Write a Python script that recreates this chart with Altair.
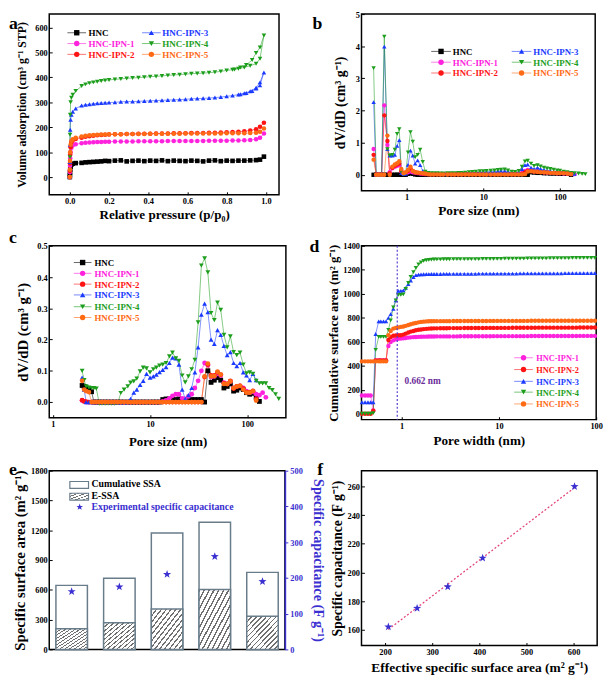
import altair as alt
import pandas as pd

FONT = "Liberation Serif"
SERIES = ["HNC", "HNC-IPN-1", "HNC-IPN-2", "HNC-IPN-3", "HNC-IPN-4", "HNC-IPN-5"]
COLORS = ["#000000", "#ff22dd", "#ff1414", "#1a3aff", "#1c9e1c", "#ff6a14"]
SHAPES = ["square", "circle", "circle", "triangle-up", "triangle-down", "circle"]
STAR = ("M0,-1L0.235,-0.324L0.951,-0.309L0.38,0.124L0.588,0.809L0,0.4"
        "L-0.588,0.809L-0.38,0.124L-0.951,-0.309L-0.235,-0.324Z")
STAR_COLOR = "#3a2fd0"
BAR_EDGE = "#687c8a"
LETTERS = ["a", "b", "c", "d", "e", "f"]

# ---------------- panel a : isotherms ----------------
A_P = [0.0, 0.0005, 0.001, 0.002, 0.004, 0.008, 0.015, 0.03, 0.06, 0.08,
       0.10, 0.12, 0.14, 0.16, 0.18, 0.20, 0.23, 0.26, 0.29, 0.32,
       0.35, 0.38, 0.41, 0.44, 0.47, 0.50, 0.53, 0.56, 0.59, 0.62,
       0.65, 0.68, 0.71, 0.74, 0.77, 0.80, 0.83, 0.86, 0.89, 0.92,
       0.95, 0.97, 0.99]
A_V = {
    "HNC": [0, 8, 18, 30, 42, 50, 54, 56, 57, 59,
            60, 61, 62, 63, 65, 64, 66, 67, 63, 65,
            66, 64, 66, 65, 67, 64, 66, 65, 64, 66,
            65, 63, 66, 67, 64, 66, 65, 66, 66, 67,
            68, 70, 82],
    "HNC-IPN-1": [0, 20, 45, 75, 100, 118, 128, 132, 136, 138,
                  139, 140, 141, 141, 142, 142, 143, 143, 143, 143,
                  144, 144, 144, 144, 144, 145, 145, 145, 145, 145,
                  145, 145, 146, 146, 146, 146, 147, 147, 148, 149,
                  152, 158, 175],
    "HNC-IPN-2": [0, 25, 55, 90, 120, 140, 148, 153, 158, 162,
                  164, 166, 168, 169, 170, 171, 172, 172, 173, 173,
                  174, 174, 174, 175, 175, 175, 176, 176, 176, 177,
                  177, 177, 178, 178, 179, 180, 181, 182, 184, 187,
                  192, 202, 218],
    "HNC-IPN-3": [0, 60, 130, 190, 230, 250, 262, 275, 287, 290,
                  292, 294, 296, 297, 298, 299, 300, 302, 303, 303,
                  304, 305, 306, 307, 308, 309, 310, 311, 312, 314,
                  315, 316, 317, 319, 321, 324, 327, 331, 336, 344,
                  358, 380, 420],
    "HNC-IPN-4": [0, 80, 170, 250, 300, 318, 330, 345, 365, 372,
                  377, 380, 383, 386, 388, 390, 392, 394, 396, 398,
                  399, 401, 403, 404, 406, 408, 410, 411, 413, 415,
                  416, 417, 419, 421, 424, 428, 431, 435, 440, 447,
                  455, 475, 568],
    "HNC-IPN-5": [0, 30, 65, 100, 130, 145, 152, 158, 163, 166,
                  168, 169, 170, 171, 171, 172, 172, 172, 173, 173,
                  173, 173, 174, 174, 174, 174, 174, 174, 175, 175,
                  175, 175, 175, 175, 175, 176, 176, 176, 176, 177,
                  178, 182, 195],
}
A_DES_P = {"HNC-IPN-3": [0.97, 0.95, 0.93, 0.90, 0.87],
           "HNC-IPN-4": [0.97, 0.95, 0.93, 0.90, 0.87, 0.84]}
A_DES_V = {"HNC-IPN-3": [368, 355, 345, 337, 332],
           "HNC-IPN-4": [520, 498, 470, 450, 440, 432]}
A_XTICKS = [0.0, 0.2, 0.4, 0.6, 0.8, 1.0]
A_YTICKS = [0, 100, 200, 300, 400, 500, 600]

# ---------------- panel b : DFT pore size distribution ----------------
B_X = [0.37, 0.40, 0.43, 0.47, 0.51, 0.56, 0.60, 0.65, 0.70, 0.75,
       0.80, 0.85, 0.91, 0.97, 1.04, 1.12, 1.20, 1.29, 1.39, 1.50,
       1.62, 1.75, 1.90, 2.05, 2.25, 2.50, 2.75, 3.0, 3.4, 3.8,
       4.2, 4.7, 5.2, 5.8, 6.5, 7.2, 8.0, 9.0, 10.0, 11.0,
       12.5, 14.0, 15.5, 17.0, 19.0, 21.0, 23.5, 26.0, 29.0, 32.0,
       35.0, 38.0, 42.0, 46.0, 51.0, 56.0, 62.0, 68.0, 75.0, 83.0,
       92.0, 100.0, 112.0, 125.0, 140.0, 155.0, 175.0, 195.0, 215.0]
B_Y = {
    "HNC": [0, 0, 0, 0, 0, 0, 0, 0, 0, 0,
            0, 0, 0, 0, 0.03, 0.05, 0.03, 0.01, 0, 0,
            0, 0, 0, 0, 0, 0, 0, 0, 0, 0,
            0, 0, 0, 0, 0, 0, 0, 0, 0, 0,
            0, 0, 0, 0, 0, 0, 0, 0, 0, 0,
            0, 0, 0.08, 0.07, 0.06, 0.06, 0.05, 0.05, 0.04, 0.04,
            0.04, 0.03, 0.03, 0.03, 0.0, None, None, None, None],
    "HNC-IPN-1": [0.80, 0, 0, 0, 2.16, 0.93, 0.08, 0.20, 0.25, 0.28,
                  0.30, 0.10, 0.05, 0.05, 0.08, 0.10, 0.08, 0.06, 0.05, 0.04,
                  0.03, 0.02, 0.02, 0.02, 0.02, 0.02, 0.02, 0.02, 0.02, 0.02,
                  0.02, 0.02, 0.02, 0.02, 0.02, 0.02, 0.02, 0.02, 0.02, 0.02,
                  0.02, 0.02, 0.03, 0.03, 0.03, 0.02, 0.02, 0.02, 0.03, 0.06,
                  0.12, 0.15, 0.12, 0.10, 0.10, 0.09, 0.08, 0.07, 0.06, 0.06,
                  0.05, 0.05, 0.04, 0.04, 0.03, 0.02, None, None, None],
    "HNC-IPN-2": [0.62, 0, 0, 0, 1.85, 1.05, 0.05, 0.22, 0.28, 0.32,
                  0.35, 0.12, 0.05, 0.06, 0.12, 0.20, 0.12, 0.08, 0.06, 0.05,
                  0.04, 0.03, 0.02, 0.02, 0.02, 0.02, 0.02, 0.02, 0.02, 0.02,
                  0.02, 0.02, 0.02, 0.02, 0.02, 0.02, 0.02, 0.02, 0.02, 0.02,
                  0.02, 0.02, 0.02, 0.02, 0.02, 0.02, 0.02, 0.02, 0.02, 0.03,
                  0.08, 0.12, 0.12, 0.10, 0.10, 0.09, 0.08, 0.08, 0.06, 0.06,
                  0.05, 0.05, 0.05, 0.04, 0.02, None, None, None, None],
    "HNC-IPN-3": [2.26, 0, 0, 0, 3.99, 0.80, 0.60, 0.60, 0.62, 0.90,
                  1.08, 0.05, 0.02, 0.03, 0.31, 0.75, 0.60, 0.35, 0.45, 0.30,
                  0.12, 0.05, 0.04, 0.03, 0.03, 0.03, 0.03, 0.03, 0.03, 0.04,
                  0.04, 0.05, 0.05, 0.05, 0.06, 0.07, 0.07, 0.08, 0.08, 0.09,
                  0.10, 0.10, 0.11, 0.12, 0.12, 0.10, 0.06, 0.05, 0.08, 0.18,
                  0.30, 0.32, 0.22, 0.18, 0.22, 0.18, 0.15, 0.13, 0.12, 0.10,
                  0.09, 0.08, 0.06, 0.05, 0.04, 0.03, None, None, None],
    "HNC-IPN-4": [3.32, 0, 0, 0, 4.30, 0.80, 0.60, 0.62, 0.78, 1.27,
                  1.42, 0.10, 0.02, 0.05, 0.70, 1.33, 1.03, 0.55, 0.62, 0.78,
                  0.40, 0.10, 0.06, 0.05, 0.05, 0.05, 0.04, 0.04, 0.05, 0.05,
                  0.05, 0.06, 0.06, 0.07, 0.08, 0.09, 0.10, 0.11, 0.11, 0.12,
                  0.13, 0.14, 0.15, 0.16, 0.17, 0.14, 0.10, 0.09, 0.12, 0.25,
                  0.42, 0.44, 0.35, 0.28, 0.30, 0.26, 0.22, 0.20, 0.18, 0.16,
                  0.14, 0.13, 0.10, 0.08, 0.06, 0.05, 0.04, 0.03, 0.02],
    "HNC-IPN-5": [0.47, 0, 0, 0, 0, 1.22, 0.00, 0.25, 0.32, 0.36,
                  0.42, 0.18, 0.05, 0.08, 0.15, 0.25, 0.12, 0.08, 0.07, 0.06,
                  0.05, 0.04, 0.02, 0.01, 0.01, 0.01, 0.01, 0.01, 0.01, 0.01,
                  0.01, 0.01, 0.01, 0.01, 0.01, 0.01, 0.01, 0.01, 0.01, 0.01,
                  0.01, 0.01, 0.01, 0.01, 0.01, 0.01, 0.01, 0.01, 0.01, 0.01,
                  0.02, 0.10, 0.11, 0.10, 0.09, 0.08, 0.08, 0.07, 0.06, 0.06,
                  0.05, 0.05, 0.05, 0.04, 0.02, None, None, None, None],
}
B_XTICKS = [1, 10, 100]
B_YTICKS = [0, 1, 2, 3, 4, 5]

# ---------------- panel c : BJH pore size distribution ----------------
C_X = [2.0, 2.1, 2.2, 2.35, 2.5, 2.65, 2.8, 3.0, 3.2, 3.45,
       3.7, 4.0, 4.3, 4.65, 5.0, 5.4, 5.9, 6.3, 6.8, 7.3,
       7.9, 8.5, 9.2, 10.0, 10.8, 11.6, 12.5, 13.5, 14.6, 15.8,
       17.0, 18.4, 19.8, 21.4, 23.0, 24.8, 26.8, 28.9, 31.2, 33.7,
       36.4, 39.3, 42.4, 45.8, 49.4, 53.3, 57.5, 62.1, 67.0, 72.3,
       78.0, 84.2, 90.9, 98.1, 105.9, 114.3, 123.4, 133.2, 143.8, 155.2,
       167.5, 180.8, 195.2, 210.7]
C_Y = {
    "HNC": [0.053, 0.050, 0.046, 0.040, 0.033, 0, 0, 0, 0, 0,
            0, 0, 0, 0, 0, 0, 0, 0, 0, 0,
            0, 0, 0, 0, 0, 0, 0, 0.008, 0.010, 0.010,
            0.010, 0.008, 0.010, 0.008, 0.008, 0.010, 0.008, 0.008, 0.008, 0.008,
            0.000, 0.100, 0.063, 0.070, 0.078, 0.070, 0.045, 0.050, 0.058, 0.035,
            0.038, 0.045, 0.040, 0.030, 0.025, 0.028, 0.015, 0.002, None, None,
            None, None, None, None],
    "HNC-IPN-1": [0.005, 0.002, 0, 0, 0, 0, 0, 0, 0, 0,
                  0, 0, 0, 0, 0, 0, 0, 0, 0, 0,
                  0, 0, 0, 0, 0, 0, 0, 0.002, 0.005, 0.012,
                  0.020, 0.025, 0.025, 0.012, 0.010, 0.018, 0.025, 0.045, 0.068, 0.100,
                  0.125, 0.118, 0.080, 0.082, 0.090, 0.085, 0.062, 0.058, 0.066, 0.045,
                  0.050, 0.052, 0.045, 0.035, 0.030, 0.033, 0.025, 0.022, 0.030, 0.015,
                  None, None, None, None],
    "HNC-IPN-2": [0.006, 0.002, 0.001, 0, 0, 0, 0, 0, 0, 0,
                  0, 0, 0, 0, 0, 0, 0, 0, 0, 0,
                  0, 0, 0, 0, 0, 0, 0, 0, 0, 0,
                  0, 0, 0, 0, 0, 0, 0, 0, 0, 0,
                  0.080, 0.120, 0.085, 0.085, 0.095, 0.088, 0.060, 0.058, 0.068, 0.043,
                  0.050, 0.052, 0.043, 0.032, 0.032, 0.036, 0.010, None, None, None,
                  None, None, None, None],
    "HNC-IPN-3": [0.078, 0.040, 0, 0, 0, 0, 0, 0, 0, 0,
                  0, 0, 0, 0, 0, 0, 0, 0.010, 0.030, 0.040,
                  0.055, 0.068, 0.090, 0.078, 0.082, 0.088, 0.096, 0.103, 0.112, 0.125,
                  0.142, 0.140, 0.120, 0.040, 0.010, 0.022, 0.045, 0.095, 0.175, 0.280,
                  0.315, 0.288, 0.200, 0.186, 0.230, 0.215, 0.180, 0.150, 0.160, 0.125,
                  0.115, 0.125, 0.095, 0.085, 0.070, 0.090, 0.070, None, None, None,
                  None, None, None, None],
    "HNC-IPN-4": [0.100, 0.070, 0.050, 0.046, 0.045, 0.045, 0.043, -0.005, -0.005, -0.005,
                  -0.005, -0.005, -0.005, -0.003, 0.029, 0.040, 0.050, 0.062, 0.066, 0.075,
                  0.098, 0.110, 0.108, 0.095, 0.105, 0.110, 0.117, 0.120, 0.125, 0.146,
                  0.158, 0.140, 0.132, 0.085, 0.063, 0.082, 0.105, 0.135, 0.255, 0.437,
                  0.460, 0.415, 0.285, 0.262, 0.318, 0.295, 0.215, 0.175, 0.210, 0.160,
                  0.150, 0.158, 0.120, 0.092, 0.095, 0.090, 0.068, 0.060, 0.060, 0.060,
                  0.045, 0.038, 0.025, 0.010],
    "HNC-IPN-5": [0.068, 0.040, 0.035, 0.032, 0, 0, 0, 0, 0, 0,
                  0, 0, 0, 0, 0, 0, 0, 0, 0, 0,
                  0, 0, 0, 0, 0, 0, 0, 0, 0, 0,
                  0, 0, 0, 0, 0, 0, 0, 0, 0, 0,
                  0.082, 0.123, 0.082, 0.083, 0.097, 0.088, 0.058, 0.058, 0.066, 0.045,
                  0.050, 0.052, 0.040, 0.030, 0.030, 0.035, 0.005, None, None, None,
                  None, None, None, None],
}
C_XTICKS = [1, 10, 100]
C_YTICKS = [0.0, 0.1, 0.2, 0.3, 0.4, 0.5]

# ---------------- panel d : cumulative surface area ----------------
D_X = [0.39, 0.42, 0.45, 0.48, 0.51, 0.54, 0.58, 0.61, 0.65, 0.69,
       0.73, 0.77, 0.82, 0.87, 0.92, 0.98, 1.04, 1.10, 1.17, 1.24,
       1.32, 1.40, 1.49, 1.58, 1.68, 1.79, 1.90, 2.02, 2.15, 2.30,
       2.5, 2.7, 2.9, 3.1, 3.4, 3.7, 4.0, 4.4, 4.8, 5.2,
       5.7, 6.2, 6.8, 7.4, 8.1, 8.8, 9.6, 10.5, 11.5, 12.6,
       13.8, 15.1, 16.5, 18.0, 19.7, 21.5, 23.5, 25.7, 28.0, 30.6,
       33.5, 36.6, 40.0, 43.7, 47.8, 52.2, 57.0, 62.3, 68.1, 74.4,
       81.3, 88.9, 97.1]
D_Y = {
    "HNC-IPN-1": [152, 152, 152, 152, 27, 445, 445, 445, 445, 445,
                  565, 598, 612, 620, 625, 628, 630, 632, 635, 637,
                  639, 640, 641, 642, 643, 643, 644, 644, 644, 645,
                  645, 645, 645, 645, 645, 645, 646, 646, 646, 646,
                  646, 646, 646, 646, 646, 647, 647, 647, 647, 647,
                  647, 647, 647, 647, 647, 648, 648, 648, 648, 648,
                  648, 648, 648, 648, 648, 648, 648, 648, 649, 649,
                  649, 649, 649],
    "HNC-IPN-2": [0, 0, 0, 0, 25, 445, 445, 445, 445, 445,
                  615, 640, 650, 652, 655, 655, 660, 668, 677, 685,
                  690, 696, 700, 703, 706, 708, 710, 711, 712, 712,
                  713, 713, 713, 714, 714, 714, 714, 715, 715, 715,
                  715, 715, 715, 716, 716, 716, 716, 716, 716, 716,
                  717, 717, 717, 717, 717, 717, 717, 718, 718, 718,
                  718, 718, 718, 718, 718, 718, 718, 718, 719, 719,
                  719, 719, 719],
    "HNC-IPN-3": [96, 96, 96, 96, 96, 665, 770, 770, 770, 770,
                  800, 830, 875, 945, 1025, 1025, 1028, 1050, 1080, 1110,
                  1140, 1155, 1160, 1162, 1163, 1164, 1164, 1165, 1165, 1165,
                  1165, 1166, 1166, 1166, 1166, 1166, 1167, 1167, 1167, 1167,
                  1167, 1168, 1168, 1168, 1168, 1168, 1169, 1169, 1169, 1169,
                  1169, 1169, 1170, 1170, 1170, 1170, 1170, 1170, 1171, 1171,
                  1171, 1171, 1171, 1171, 1172, 1172, 1172, 1172, 1172, 1172,
                  1173, 1173, 1173],
    "HNC-IPN-4": [0, 0, 0, 0, 5, 532, 641, 641, 641, 641,
                  700, 778, 887, 945, 991, 991, 995, 1040, 1090, 1140,
                  1180, 1215, 1245, 1262, 1275, 1280, 1283, 1285, 1286, 1287,
                  1287, 1288, 1288, 1288, 1289, 1289, 1289, 1289, 1290, 1290,
                  1290, 1290, 1291, 1291, 1291, 1292, 1292, 1292, 1293, 1293,
                  1293, 1294, 1294, 1294, 1295, 1295, 1295, 1296, 1296, 1296,
                  1297, 1297, 1297, 1298, 1298, 1298, 1299, 1299, 1299, 1300,
                  1300, 1300, 1300],
    "HNC-IPN-5": [437, 437, 437, 437, 437, 437, 437, 437, 437, 437,
                  655, 690, 710, 716, 720, 724, 728, 733, 740, 746,
                  752, 757, 762, 766, 768, 770, 771, 771, 772, 772,
                  772, 772, 772, 772, 773, 773, 773, 773, 773, 773,
                  773, 773, 773, 773, 774, 774, 774, 774, 774, 774,
                  774, 774, 774, 774, 774, 775, 775, 775, 775, 775,
                  775, 775, 775, 775, 775, 775, 775, 775, 775, 775,
                  775, 775, 775],
}
D_XTICKS = [1, 10, 100]
D_YTICKS = [0, 200, 400, 600, 800, 1000, 1200, 1400]
D_LINE = [0.9]
D_NOTE = ["0.662 nm"]
D_NOTE_X = [1.07]
D_NOTE_Y = [245]

# ---------------- panel e : bars ----------------
E_SAMPLES = ["HNC-IPN-1", "HNC-IPN-2", "HNC-IPN-3", "HNC-IPN-4", "HNC-IPN-5"]
E_CUM = [645, 716, 1172, 1280, 776]
E_ESSA = [208, 268, 408, 604, 334]
E_CAP = [162, 175, 210, 260, 190]
E_LEGEND = ["Cumulative SSA", "E-SSA", "Experimental specific capacitance"]
E_LTICKS = [0, 300, 600, 900, 1200, 1500, 1800]
E_RTICKS = [0, 100, 200, 300, 400, 500]

# ---------------- panel f : linear relation ----------------
F_X = [207, 268, 333, 407, 602]
F_Y = [162, 175, 190, 210, 260]
F_XTICKS = [200, 300, 400, 500, 600]
F_YTICKS = [160, 180, 200, 220, 240, 260]


# ================= helpers =================
def hatch(n, line="#707070"):
    stops = []
    for k in range(n):
        a, b, c = k / n, (k + 0.32) / n, (k + 1) / n
        stops += [{"offset": round(a, 4), "color": line},
                  {"offset": round(b, 4), "color": line},
                  {"offset": round(b, 4), "color": "#ffffff"},
                  {"offset": round(min(c, 1.0), 4), "color": "#ffffff"}]
    return {"gradient": "linear", "x1": 0, "y1": 0, "x2": 1, "y2": 1, "stops": stops}


def axis(title, values, fmt, tsize, tpad, orient=None, color="black",
         inward=True, lsize=8.5):
    kw = dict(title=title, values=values, format=fmt, grid=False,
              labelFont=FONT, labelFontWeight="bold", labelFontSize=lsize,
              titleFont=FONT, titleFontWeight="bold", titleFontSize=tsize,
              titlePadding=tpad, labelColor=color, titleColor=color,
              tickColor=color, labelFlush=False, labelOverlap=False,
              labelPadding=2, tickSize=3, tickWidth=1)
    if inward:
        kw.update(domain=False, offset=-3)
    else:
        kw.update(domain=True, domainColor=color, domainWidth=1.6)
    if orient:
        kw["orient"] = orient
    return alt.Axis(**kw)


def long_df(xs_by_series, ys_by_series):
    rows = []
    for s in SERIES:
        if s not in ys_by_series:
            continue
        for i, (xv, yv) in enumerate(zip(xs_by_series[s], ys_by_series[s])):
            if yv is None:
                continue
            rows.append({"series": s, "x": xv, "y": yv, "i": i})
    return pd.DataFrame(rows)


def series_layers(df, order, xscale, yscale, xaxis, yaxis, size):
    cs = alt.Scale(domain=order, range=[COLORS[SERIES.index(s)] for s in order])
    ss = alt.Scale(domain=order, range=[SHAPES[SERIES.index(s)] for s in order])
    x = alt.X("x:Q", scale=xscale, axis=xaxis)
    y = alt.Y("y:Q", scale=yscale, axis=yaxis)
    base = alt.Chart(df)
    line = base.mark_line(strokeWidth=1, opacity=0.55).encode(
        x=x, y=y, stroke=alt.Stroke("series:N", scale=cs, legend=None),
        detail="series:N", order="i:Q")
    pts = base.mark_point(filled=True, size=size, opacity=1, strokeWidth=0).encode(
        x=x, y=y, color=alt.Color("series:N", scale=cs, legend=None),
        shape=alt.Shape("series:N", scale=ss, legend=None))
    return [line, pts]


def key(entries, sym_x, txt_x, ys, half, lsize, msize=30):
    """Legend drawn as small marks placed in the panel's pixel space."""
    layers = []
    for s, sx, tx, yc in zip(entries, sym_x, txt_x, ys):
        col = COLORS[SERIES.index(s)]
        shp = SHAPES[SERIES.index(s)]
        d = pd.DataFrame({"t": [s]})
        layers.append(alt.Chart(d).mark_rule(color=col, strokeWidth=1, opacity=0.6).encode(
            x=alt.value(sx - half), x2=alt.value(sx + half), y=alt.value(yc)))
        layers.append(alt.Chart(d).mark_point(shape=shp, filled=True, size=msize, color=col,
                                              opacity=1, strokeWidth=0).encode(
            x=alt.value(sx), y=alt.value(yc)))
        layers.append(alt.Chart(d).mark_text(align="left", baseline="middle", font=FONT,
                                             fontWeight="bold", fontSize=lsize, color=col).encode(
            text="t:N", x=alt.value(tx), y=alt.value(yc + 0.5)))
    return layers


def letter(ch, dx, dy):
    return alt.Chart(pd.DataFrame({"t": [ch]})).mark_text(
        font=FONT, fontWeight="bold", fontSize=18, align="left",
        baseline="alphabetic", color="black").encode(
        text="t:N", x=alt.value(dx), y=alt.value(dy))


# ---------------- panel a ----------------
a_xs = {s: A_P + A_DES_P.get(s, []) for s in SERIES}
a_ys = {s: A_V[s] + A_DES_V.get(s, []) for s in SERIES}
a_df = long_df(a_xs, a_ys)
pa = alt.layer(
    *series_layers(
        a_df, SERIES,
        alt.Scale(domain=[-0.105, 1.067], nice=False, zero=False),
        alt.Scale(domain=[-71, 654], nice=False, zero=False),
        axis("Relative pressure (p/p₀)", A_XTICKS, ".1f", 13.3, 3),
        axis("Volume adsorption (cm³ g⁻¹ STP)", A_YTICKS, "d", 12, 6), 22),
    *key(SERIES, [28, 28, 28, 104, 104, 104], [40, 40, 40, 115, 115, 115],
         [19, 30, 41, 19, 30, 41], 9.5, 9.2),
    letter(LETTERS[0], -41, 15),
).properties(width=234, height=184)

# ---------------- panel b ----------------
b_df = long_df({s: B_X for s in SERIES}, B_Y)
pb = alt.layer(
    *series_layers(
        b_df, SERIES,
        alt.Scale(type="log", domain=[0.257, 289], nice=False),
        alt.Scale(domain=[-0.5, 5.0], nice=False, zero=False),
        axis("Pore size (nm)", B_XTICKS, "~g", 13.6, 3),
        axis("dV/dD (cm³ g⁻¹)", B_YTICKS, "d", 14, 8), 20),
    *key(SERIES, [81, 81, 81, 163, 163, 163], [93, 93, 93, 175, 175, 175],
         [38, 49, 60, 38, 49, 60], 10, 9),
    letter(LETTERS[1], -50, 15),
).properties(width=238, height=180)

# ---------------- panel c ----------------
c_df = long_df({s: C_X for s in SERIES}, C_Y)
pc = alt.layer(
    *series_layers(
        c_df, SERIES,
        alt.Scale(type="log", domain=[0.918, 249.5], nice=False),
        alt.Scale(domain=[-0.05, 0.5], nice=False, zero=False),
        axis("Pore size (nm)", C_XTICKS, "~g", 13.1, 8),
        axis("dV/dD (cm³ g⁻¹)", C_YTICKS, ".1f", 15, 6), 24),
    *key(SERIES, [34] * 6, [46] * 6, [17, 28, 39, 50, 62, 73], 9, 9),
    letter(LETTERS[2], -41, -3),
).properties(width=241, height=175)

# ---------------- panel d ----------------
d_series = SERIES[1:]
d_df = long_df({s: D_X for s in d_series}, D_Y)
d_xs = alt.Scale(type="log", domain=[0.386, 100], nice=False)
d_ys = alt.Scale(domain=[-49, 1400], nice=False, zero=False)
d_xa = axis("Pore width (nm)", D_XTICKS, "~g", 13.4, 4)
d_ya = axis("Cumulative surface area (m² g⁻¹)", D_YTICKS, "d", 13, 2)
d_rule = alt.Chart(pd.DataFrame({"x": D_LINE})).mark_rule(
    strokeDash=[2, 2], color="#5a3ccf", strokeWidth=1.2).encode(
    x=alt.X("x:Q", scale=d_xs, axis=d_xa))
d_text = alt.Chart(pd.DataFrame({"x": D_NOTE_X, "y": D_NOTE_Y, "t": D_NOTE})).mark_text(
    align="left", baseline="alphabetic", font=FONT, fontWeight="bold",
    fontSize=9.5, color="#6b2d9a").encode(
    x=alt.X("x:Q", scale=d_xs, axis=d_xa), y=alt.Y("y:Q", scale=d_ys, axis=d_ya),
    text="t:N")
pd_ = alt.layer(
    *series_layers(d_df, d_series, d_xs, d_ys, d_xa, d_ya, 20),
    d_rule,
    d_text,
    *key(d_series, [165] * 5, [178] * 5, [114, 126, 138, 149, 161], 9.5, 8.5),
    letter(LETTERS[3], -53, 6),
).properties(width=239, height=177)

# ---------------- panel e ----------------
e_df = pd.DataFrame({"sample": E_SAMPLES, "cum": E_CUM, "essa": E_ESSA, "cap": E_CAP})
ex = alt.X("sample:N", sort=E_SAMPLES,
           scale=alt.Scale(paddingInner=0.34, paddingOuter=0.14), axis=None)
e_base = alt.Chart(e_df)
e_cum = e_base.mark_bar(fill="white", stroke=BAR_EDGE, strokeWidth=1.5).encode(
    x=ex, y=alt.Y("cum:Q", scale=alt.Scale(domain=[0, 1800], nice=False),
                  axis=axis("Specific surface area (m² g⁻¹)", E_LTICKS, "d", 15, 3)))
e_essa = e_base.mark_bar(fill=hatch(13), stroke=BAR_EDGE, strokeWidth=1.5).encode(
    x=ex, y=alt.Y("essa:Q", scale=alt.Scale(domain=[0, 1800], nice=False), axis=None))
e_star = e_base.mark_point(shape=STAR, filled=True, size=75, color=STAR_COLOR,
                           opacity=1, strokeWidth=0).encode(
    x=ex, y=alt.Y("cap:Q", scale=alt.Scale(domain=[0, 500], nice=False),
                  axis=axis("Specific capacitance (F g⁻¹)", E_RTICKS, "d", 14.5, 8,
                            orient="right", color=STAR_COLOR, inward=False)))
leg_df = pd.DataFrame({"t": ["x"]})
e_sw1 = alt.Chart(leg_df).mark_rect(fill="white", stroke=BAR_EDGE, strokeWidth=1.2).encode(
    x=alt.value(21), x2=alt.value(40), y=alt.value(11), y2=alt.value(18))
e_sw2 = alt.Chart(leg_df).mark_rect(fill=hatch(5), stroke=BAR_EDGE, strokeWidth=1.2).encode(
    x=alt.value(21), x2=alt.value(40), y=alt.value(23), y2=alt.value(30))
e_sw3 = alt.Chart(leg_df).mark_point(shape=STAR, filled=True, size=50, color=STAR_COLOR,
                                     opacity=1, strokeWidth=0).encode(
    x=alt.value(31), y=alt.value(37))


def e_text(i, y, color):
    return alt.Chart(pd.DataFrame({"t": [E_LEGEND[i]]})).mark_text(
        align="left", baseline="alphabetic", font=FONT, fontWeight="bold",
        fontSize=10, color=color).encode(text="t:N", x=alt.value(43), y=alt.value(y))


pe = alt.layer(
    e_cum, e_essa, e_star, e_sw1, e_sw2, e_sw3,
    e_text(0, 17, "black"), e_text(1, 29, "black"), e_text(2, 40, STAR_COLOR),
    letter(LETTERS[4], -41, 4),
).resolve_scale(y="independent").properties(width=240, height=182)

# ---------------- panel f ----------------
f_df = pd.DataFrame({"x": F_X, "y": F_Y})
f_xs = alt.Scale(domain=[150, 650], nice=False, zero=False)
f_ys = alt.Scale(domain=[149, 271], nice=False, zero=False)
f_xa = axis("Effective specific surface area (m² g⁻¹)", F_XTICKS, "d", 13.7, 5)
f_ya = axis("Specific capacitance (F g⁻¹)", F_YTICKS, "d", 13.8, 3)
f_fit = alt.Chart(f_df).transform_regression("x", "y").mark_line(
    strokeDash=[2, 2], color="#e2457d", strokeWidth=1.3).encode(
    x=alt.X("x:Q", scale=f_xs, axis=f_xa), y=alt.Y("y:Q", scale=f_ys, axis=f_ya))
f_pts = alt.Chart(f_df).mark_point(shape=STAR, filled=True, size=75, color=STAR_COLOR,
                                   opacity=1, strokeWidth=0).encode(
    x=alt.X("x:Q", scale=f_xs, axis=f_xa), y=alt.Y("y:Q", scale=f_ys, axis=f_ya))
pf = alt.layer(f_fit, f_pts, letter(LETTERS[5], -45, 4)).properties(width=240, height=178)

chart = alt.concat(
    pa, pb, pc, pd_, pe, pf, columns=2,
    spacing={"row": 52, "column": 77}, bounds="flush",
).resolve_scale(
    color="independent", shape="independent", stroke="independent"
).properties(
    padding={"left": 0, "top": -5, "right": 2, "bottom": 2}
).configure_view(stroke="black", strokeWidth=1.5)

chart.save("out.html", embed_options={"renderer": "svg", "actions": False})
